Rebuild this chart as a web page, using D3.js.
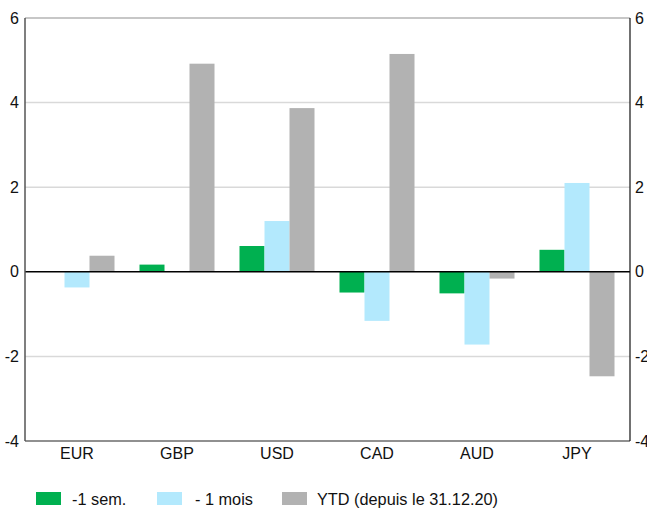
<!DOCTYPE html>
<html>
<head>
<meta charset="utf-8">
<script src="https://cdn.jsdelivr.net/npm/d3@7"></script>
<style>
  html, body { margin: 0; padding: 0; background: #fff; }
  svg { display: block; font-family: "Liberation Sans", Arial, sans-serif; }
</style>
</head>
<body>
<svg id="chart" width="647" height="508"></svg>
<script>
// Currency performance: last week, last month and year to date (%)
const categories = ["EUR", "GBP", "USD", "CAD", "AUD", "JPY"];
const seriesNames = ["-1 sem.", "- 1 mois", "YTD (depuis le 31.12.20)"];
const weekValues  = [0.0, 0.17, 0.61, -0.49, -0.51, 0.52];
const monthValues = [-0.37, 0.0, 1.20, -1.16, -1.72, 2.10];
const ytdValues   = [0.38, 4.92, 3.87, 5.15, -0.16, -2.47];
const yTicks = [-4, -2, 0, 2, 4, 6];
const seriesColors = ["#00b050", "#b3e9fd", "#b2b2b2"];

const allSeries = [weekValues, monthValues, ytdValues];

const svg = d3.select("#chart");
const W = 647, H = 508;
const plot = { left: 25, right: 630, top: 18, bottom: 441 };

svg.append("rect").attr("width", W).attr("height", H).attr("fill", "#fff");

const y = d3.scaleLinear().domain([-4, 6]).range([plot.bottom, plot.top]);
const x = d3.scaleBand().domain(categories).range([27, 627])
  .paddingInner(0.25).paddingOuter(0.125);
const xs = d3.scaleBand().domain(d3.range(seriesNames.length)).range([0, x.bandwidth()]);

// Horizontal gridlines
svg.append("g").selectAll("line")
  .data(yTicks.filter(t => t !== 0 && t !== -4))
  .join("line")
  .attr("x1", plot.left).attr("x2", plot.right)
  .attr("y1", d => y(d)).attr("y2", d => y(d))
  .attr("stroke", d => d === 6 ? "#b4b4b4" : "#d9d9d9")
  .attr("stroke-width", 1.5);

// Bars
const groups = svg.append("g").selectAll("g")
  .data(categories)
  .join("g")
  .attr("transform", d => `translate(${x(d)},0)`);

groups.selectAll("rect")
  .data((c, i) => allSeries.map((s, k) => ({ k, v: s[i] })))
  .join("rect")
  .attr("x", d => xs(d.k))
  .attr("width", xs.bandwidth())
  .attr("y", d => y(Math.max(0, d.v)))
  .attr("height", d => Math.abs(y(d.v) - y(0)))
  .attr("fill", d => seriesColors[d.k]);

// Zero line and frame
svg.append("line")
  .attr("x1", plot.left).attr("x2", plot.right)
  .attr("y1", y(0)).attr("y2", y(0))
  .attr("stroke", "#000").attr("stroke-width", 1.5);
svg.append("line")
  .attr("x1", plot.left).attr("x2", plot.right)
  .attr("y1", plot.bottom).attr("y2", plot.bottom)
  .attr("stroke", "#222").attr("stroke-width", 1.2);
svg.append("line")
  .attr("x1", plot.left).attr("x2", plot.left)
  .attr("y1", plot.top).attr("y2", plot.bottom)
  .attr("stroke", "#555").attr("stroke-width", 1.5);
svg.append("line")
  .attr("x1", plot.right).attr("x2", plot.right)
  .attr("y1", plot.top).attr("y2", plot.bottom)
  .attr("stroke", "#111").attr("stroke-width", 1.2);

// Axes (plain hyphen for negatives)
const fmt = d => String(d);
const leftAxis = svg.append("g")
  .attr("transform", `translate(${plot.left},0)`)
  .call(d3.axisLeft(y).tickValues(yTicks).tickFormat(fmt).tickSize(0).tickPadding(6));
const rightAxis = svg.append("g")
  .attr("transform", `translate(${plot.right},0)`)
  .call(d3.axisRight(y).tickValues(yTicks).tickFormat(fmt).tickSize(0).tickPadding(5));
const bottomAxis = svg.append("g")
  .attr("transform", `translate(0,${plot.bottom})`)
  .call(d3.axisBottom(x).tickSize(0).tickPadding(7));

[leftAxis, rightAxis, bottomAxis].forEach(a => {
  a.select(".domain").remove();
  a.selectAll("text")
    .attr("font-family", "'Liberation Sans', Arial, sans-serif")
    .attr("font-size", 16)
    .attr("fill", "#111");
});

// Legend
const legendX = [36, 157, 282];
const legend = svg.append("g").selectAll("g")
  .data(seriesNames)
  .join("g")
  .attr("transform", (d, i) => `translate(${legendX[i]},492)`);
legend.append("rect")
  .attr("width", 25).attr("height", 13)
  .attr("fill", (d, i) => seriesColors[i]);
legend.append("text")
  .attr("x", (d, i) => i === 2 ? 35 : (i === 1 ? 38 : 36))
  .attr("y", 13)
  .attr("font-size", 16.3)
  .attr("fill", "#111")
  .text(d => d);
</script>
</body>
</html>
